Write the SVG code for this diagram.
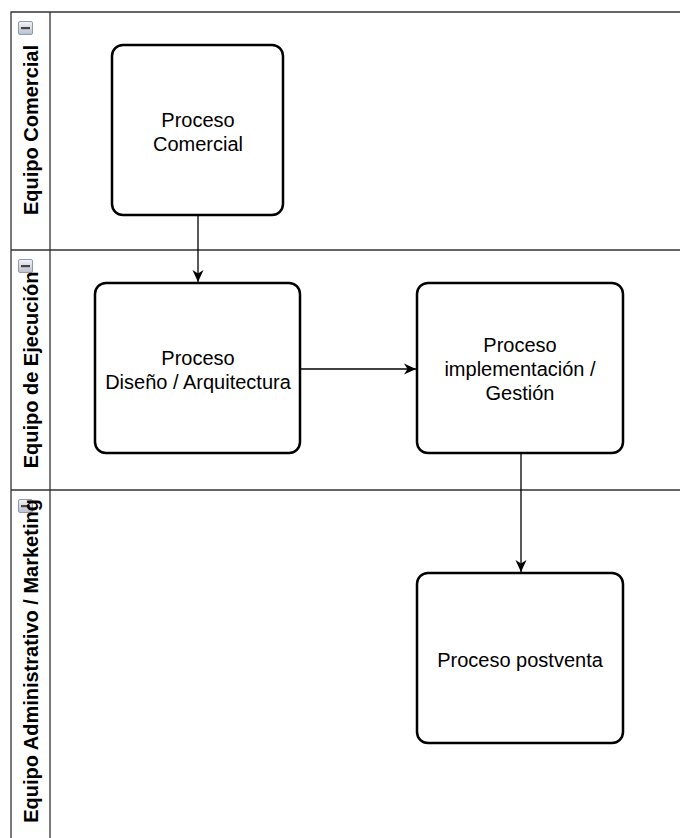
<svg xmlns="http://www.w3.org/2000/svg" width="680" height="838" viewBox="0 0 680 838">
<defs>
<linearGradient id="ig" x1="0" y1="0" x2="0" y2="1">
<stop offset="0" stop-color="#f2f4f7"/>
<stop offset="1" stop-color="#b9c1cf"/>
</linearGradient>
<marker id="arr" markerWidth="14" markerHeight="14" refX="12" refY="7" orient="auto" markerUnits="userSpaceOnUse">
<path d="M0,1.5 L12,7 L0,12.5 L3.5,7 Z" fill="#000"/>
</marker>
<g id="icon">
<rect x="0.5" y="0.5" width="14" height="13" rx="1.5" fill="url(#ig)" stroke="#8f9bad" stroke-width="1"/>
<rect x="3" y="6" width="9" height="2.2" fill="#444"/>
</g>
</defs>
<style>
.lane{fill:none;stroke:#333;stroke-width:1.3}
.box{fill:#fff;stroke:#000;stroke-width:2.5}
.t{font-family:"Liberation Sans",Arial,sans-serif;font-size:20px;fill:#000;text-anchor:middle}
.h{font-family:"Liberation Sans",Arial,sans-serif;font-size:20px;font-weight:bold;fill:#000;text-anchor:middle}
.edge{fill:none;stroke:#000;stroke-width:1.3}
</style>
<rect width="680" height="838" fill="#fff"/>
<g id="lanes">
<path class="lane" d="M11,845 V12 H690 M50,12 V845 M11,250 H690 M11,490 H690"/>
</g>
<g id="lane-comercial">
<use href="#icon" x="18" y="21"/>
<text class="h" transform="translate(38,130) rotate(-90)">Equipo Comercial</text>
</g>
<g id="lane-ejecucion">
<use href="#icon" x="18" y="259"/>
<text class="h" transform="translate(38,370) rotate(-90)">Equipo de Ejecución</text>
</g>
<g id="lane-admin">
<use href="#icon" x="18" y="499"/>
<text class="h" transform="translate(38,661) rotate(-90)">Equipo Administrativo / Marketing</text>
</g>
<g id="connectors">
<path class="edge" d="M198,215 V282" marker-end="url(#arr)"/>
<path class="edge" d="M300,369 H416" marker-end="url(#arr)"/>
<path class="edge" d="M521,453 V572" marker-end="url(#arr)"/>
</g>
<g id="proceso-comercial">
<rect class="box" x="112" y="45" width="171" height="170" rx="11"/>
<text class="t" x="198" y="127">Proceso</text>
<text class="t" x="198" y="151">Comercial</text>
</g>
<g id="proceso-diseno">
<rect class="box" x="95" y="283" width="205" height="170" rx="11"/>
<text class="t" x="198" y="365">Proceso</text>
<text class="t" x="198" y="389">Diseño / Arquitectura</text>
</g>
<g id="proceso-implementacion">
<rect class="box" x="417" y="283" width="206" height="170" rx="11"/>
<text class="t" x="520" y="352">Proceso</text>
<text class="t" x="520" y="376">implementación /</text>
<text class="t" x="520" y="400">Gestión</text>
</g>
<g id="proceso-postventa">
<rect class="box" x="417" y="573" width="206" height="170" rx="11"/>
<text class="t" x="520" y="667">Proceso postventa</text>
</g>
</svg>
